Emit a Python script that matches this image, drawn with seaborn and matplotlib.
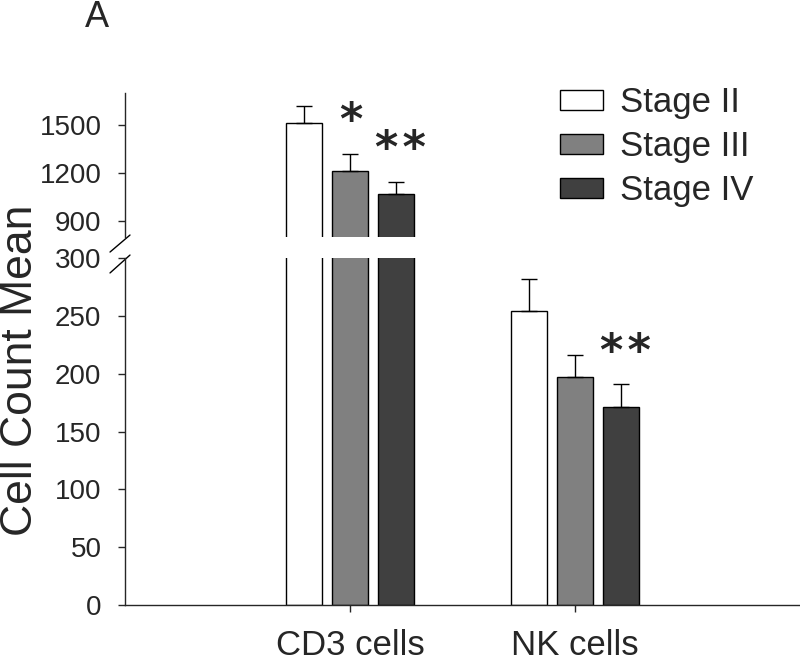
import pandas as pd
import seaborn as sns
import matplotlib
matplotlib.use("Agg")
import matplotlib.pyplot as plt

# ------------------------------------------------
# Data

cells = ["CD3 cells", "NK cells"]
stages = ["Stage II", "Stage III", "Stage IV"]
colors = ["#ffffff", "#808080", "#404040"]

cd3_mean = [1512, 1210, 1069]
cd3_se = [107, 110, 77]
cd3_sig = ["", "*", "**"]

nk_mean = [254, 197, 171]
nk_se = [28, 19, 20]
nk_sig = ["", "", "**"]

lower_ticks = [0, 50, 100, 150, 200, 250, 300]
upper_ticks = [900, 1200, 1500]

# ------------------------------------------------

rows = []
for i, st in enumerate(stages):
    rows.append({"cell": cells[0], "stage": st, "mean": cd3_mean[i],
                 "se": cd3_se[i], "sig": cd3_sig[i]})
    rows.append({"cell": cells[1], "stage": st, "mean": nk_mean[i],
                 "se": nk_se[i], "sig": nk_sig[i]})
df = pd.DataFrame(rows)

sns.set_style("ticks")
plt.rcParams['font.family'] = ['Liberation Sans', 'DejaVu Sans']

fig = plt.figure(figsize=(8, 6.64), dpi=100)
ax_lo = fig.add_axes([0.15625, 0.0889, 0.84375, 0.5225])
ax_hi = fig.add_axes([0.15625, 0.643, 0.84375, 0.217])

bars = {}
for ax in (ax_hi, ax_lo):
    sns.barplot(data=df, x="cell", y="mean", hue="stage", order=cells,
                hue_order=stages, palette=colors, width=0.612, gap=0.2,
                edgecolor="black", linewidth=1.0, legend=False, ax=ax,
                saturation=1)
    bars[ax] = list(ax.containers)
    ax.set_xlim(-1, 2)
    ax.set_xlabel("")
    ax.set_ylabel("")

ax_lo.set_ylim(0, 300)
ax_hi.set_ylim(800, 1700)

# error bars (upper only) and significance marks
for ax in (ax_hi, ax_lo):
    lo, hi = ax.get_ylim()
    for st, cont in zip(stages, bars[ax]):
        sub = df[df["stage"] == st].set_index("cell").loc[cells]
        for bar, (_, r) in zip(cont.patches, sub.iterrows()):
            xc = bar.get_x() + bar.get_width() / 2
            if not (lo < r["mean"] + r["se"] < hi):
                continue
            ax.errorbar(xc, r["mean"], yerr=[[0], [r["se"]]], fmt="none",
                        ecolor="black", elinewidth=1.0, capsize=5.8,
                        capthick=1.0)
            if r["sig"]:
                dx = 3 if len(r["sig"]) > 1 else 0.5
                star = "\u200a".join(r["sig"])
                ax.annotate(star, xy=(xc, r["mean"] + r["se"]),
                            xytext=(dx, 23), textcoords="offset points",
                            ha="center", va="center", fontsize=32,
                            fontweight="bold",
                            family=["DejaVu Sans"])

# spines / ticks
for sp in ["top", "right"]:
    ax_lo.spines[sp].set_visible(False)
for sp in ["top", "right", "bottom"]:
    ax_hi.spines[sp].set_visible(False)
ax_hi.tick_params(axis="x", bottom=False, labelbottom=False)

ax_lo.set_yticks(lower_ticks)
ax_hi.set_yticks(upper_ticks)
for ax in (ax_hi, ax_lo):
    ax.tick_params(axis="y", direction="out", length=5, width=1.0,
                   labelsize=20, pad=12)
    for sp in ax.spines.values():
        sp.set_linewidth(1.0)
ax_lo.tick_params(axis="x", direction="out", length=5, width=1.0,
                  labelsize=25, pad=12)

# break marks
kw = dict(color="black", lw=1.0, clip_on=False)
ax_hi.plot([-0.0222, 0.0074], [-0.104, 0.014], transform=ax_hi.transAxes, **kw)
ax_lo.plot([-0.0222, 0.0074], [0.957, 1.0086], transform=ax_lo.transAxes, **kw)

# legend
handles = [c.patches[0] for c in bars[ax_hi]]
fig.legend(handles, stages, loc="upper left", bbox_to_anchor=(0.7, 0.870),
           frameon=False, fontsize=25, handlelength=1.23, handleheight=0.51,
           handletextpad=0.5, labelspacing=0.31, borderpad=0, borderaxespad=0)

fig.text(0.026, 0.443, "Cell Count Mean", rotation=90, ha="center",
         va="center", fontsize=32)
fig.text(0.121, 0.973, "A", ha="center", va="center", fontsize=26)

fig.savefig("out.png", dpi=100)
